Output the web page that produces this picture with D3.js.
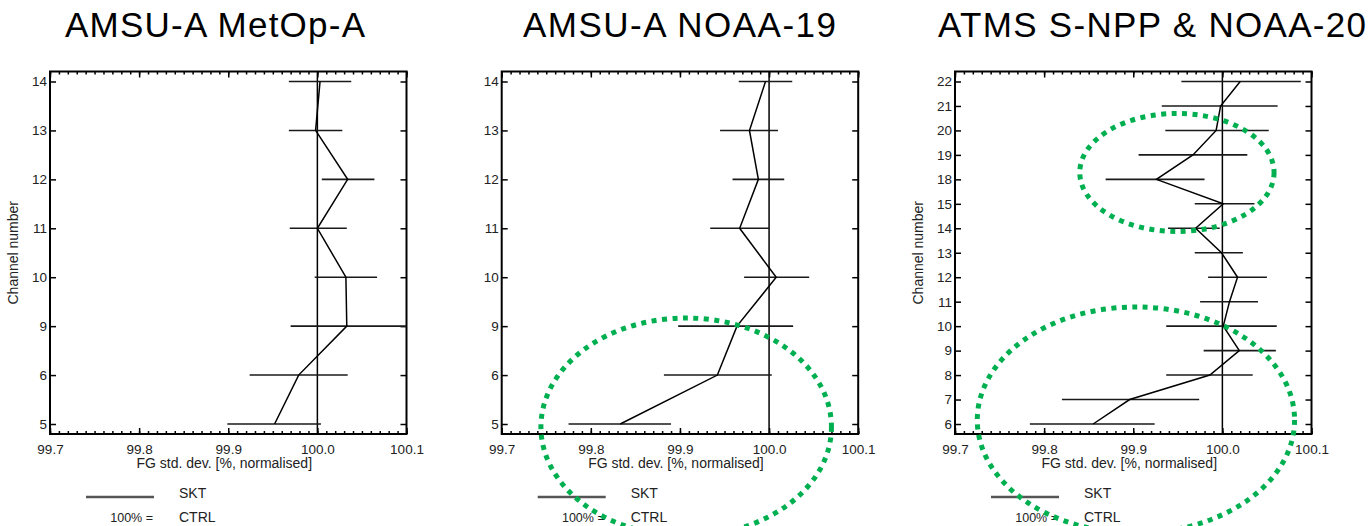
<!DOCTYPE html>
<html>
<head>
<meta charset="utf-8">
<script src="https://cdn.jsdelivr.net/npm/d3@7"></script>
<style>
  body { margin: 0; background: #fff; }
  svg { display: block; font-family: "Liberation Sans", Arial, sans-serif; }
  .axis text { font-size: 13.5px; fill: #222; }
  .axis line { stroke: #000; stroke-width: 1.5; }
</style>
</head>
<body>
<div id="chart"></div>
<script>
const WIDTH = 1370;
const HEIGHT = 526;

// channels and FG std. dev. (normalised, %) per instrument
const metopChannels = [5, 6, 9, 10, 11, 12, 13, 14];
const metopMean = [99.952, 99.979, 100.033, 100.032, 100.000, 100.034, 99.998, 100.003];
const metopLow = [99.899, 99.924, 99.970, 99.997, 99.969, 100.005, 99.968, 99.968];
const metopHigh = [100.004, 100.034, 100.100, 100.067, 100.033, 100.064, 100.028, 100.038];

const noaa19Channels = [5, 6, 9, 10, 11, 12, 13, 14];
const noaa19Mean = [99.833, 99.942, 99.964, 100.008, 99.967, 99.988, 99.978, 99.996];
const noaa19Low = [99.775, 99.882, 99.898, 99.972, 99.934, 99.959, 99.945, 99.966];
const noaa19High = [99.890, 100.003, 100.027, 100.045, 100.000, 100.017, 100.010, 100.026];

const atmsChannels = [6, 7, 8, 9, 10, 11, 12, 13, 14, 15, 18, 19, 20, 21, 22];
const atmsMean = [99.855, 99.896, 99.986, 100.019, 100.001, 100.008, 100.017, 99.999, 99.970, 100.001, 99.926, 99.967, 99.993, 99.998, 100.020];
const atmsLow = [99.784, 99.820, 99.937, 99.979, 99.937, 99.975, 99.984, 99.969, 99.939, 99.969, 99.869, 99.906, 99.936, 99.932, 99.954];
const atmsHigh = [99.924, 99.974, 100.034, 100.060, 100.061, 100.040, 100.050, 100.023, 99.997, 100.036, 99.980, 100.028, 100.052, 100.062, 100.088];

const xDomain = [99.7, 100.1];
const xTicks = [99.7, 99.8, 99.9, 100.0, 100.1];
const xMinorTicks = d3.range(0, 41).map(i => +(99.7 + i * 0.01).toFixed(2));
const ctrlValue = 100.0;

const BOX_TOP = 71.5;
const BOX_BOTTOM = 434;
const BOX_WIDTH = 356.5;
const Y_PAD = 10;

const panels = [
    {title: 'AMSU-A MetOp-A', titleX: 215, titleWidth: 300, left: 50, channels: metopChannels,
     mean: metopMean, low: metopLow, high: metopHigh, yLabel: true, rings: []},
    {title: 'AMSU-A NOAA-19', titleX: 679.5, titleWidth: 313, left: 501.7, channels: noaa19Channels,
     mean: noaa19Mean, low: noaa19Low, high: noaa19High, yLabel: false,
     rings: [{cx: 99.907, rx: 0.163, cy: 427, ry: 109}]},
    {title: 'ATMS S-NPP & NOAA-20', titleX: 1152, titleWidth: 428, left: 955, channels: atmsChannels,
     mean: atmsMean, low: atmsLow, high: atmsHigh, yLabel: true,
     rings: [{cx: 99.949, rx: 0.109, cy: 172.5, ry: 59},
             {cx: 99.903, rx: 0.178, cy: 420, ry: 113}]}
];

const svg = d3.select('#chart').append('svg')
    .attr('width', WIDTH)
    .attr('height', HEIGHT);

function drawPanel(p){
    const right = p.left + BOX_WIDTH;
    const x = d3.scaleLinear().domain(xDomain).range([p.left, right]);
    const y = d3.scalePoint()
        .domain(p.channels.map(String))
        .range([BOX_BOTTOM - Y_PAD, BOX_TOP + Y_PAD]);

    const g = svg.append('g').attr('class', 'panel');

    g.append('text')
        .attr('x', p.titleX)
        .attr('y', 37)
        .attr('text-anchor', 'middle')
        .attr('textLength', p.titleWidth)
        .attr('lengthAdjust', 'spacing')
        .style('font-size', '35px')
        .text(p.title);

    // minor ticks, top and bottom, pointing inward
    g.append('g').attr('class', 'axis')
        .attr('transform', `translate(0,${BOX_BOTTOM})`)
        .call(d3.axisBottom(x).tickValues(xMinorTicks).tickSize(-3).tickFormat(''))
        .call(a => a.select('.domain').remove());
    g.append('g').attr('class', 'axis')
        .attr('transform', `translate(0,${BOX_TOP})`)
        .call(d3.axisTop(x).tickValues(xMinorTicks).tickSize(-3).tickFormat(''))
        .call(a => a.select('.domain').remove());

    g.append('g').attr('class', 'axis')
        .attr('transform', `translate(0,${BOX_BOTTOM})`)
        .call(d3.axisBottom(x).tickValues(xTicks).tickSize(-6).tickPadding(10).tickFormat(d3.format('.1f')))
        .call(a => a.select('.domain').remove());
    g.append('g').attr('class', 'axis')
        .attr('transform', `translate(0,${BOX_TOP})`)
        .call(d3.axisTop(x).tickValues(xTicks).tickSize(-6).tickFormat(''))
        .call(a => a.select('.domain').remove());

    g.append('g').attr('class', 'axis')
        .attr('transform', `translate(${p.left},0)`)
        .call(d3.axisLeft(y).tickSize(-6).tickPadding(3))
        .call(a => a.select('.domain').remove());
    g.append('g').attr('class', 'axis')
        .attr('transform', `translate(${right},0)`)
        .call(d3.axisRight(y).tickSize(-6).tickFormat(''))
        .call(a => a.select('.domain').remove());

    g.append('rect')
        .attr('x', p.left)
        .attr('y', BOX_TOP)
        .attr('width', BOX_WIDTH)
        .attr('height', BOX_BOTTOM - BOX_TOP)
        .attr('fill', 'none')
        .attr('stroke', '#000')
        .attr('stroke-width', 2);

    g.append('text')
        .attr('x', p.left + BOX_WIDTH / 2 - 4)
        .attr('y', 468)
        .attr('text-anchor', 'middle')
        .style('font-size', '14px')
        .attr('fill', '#222')
        .text('FG std. dev. [%, normalised]');

    if(p.yLabel){
        g.append('text')
            .attr('transform', `translate(${p.left - 32},${(BOX_TOP + BOX_BOTTOM) / 2}) rotate(-90)`)
            .attr('text-anchor', 'middle')
            .style('font-size', '14px')
            .attr('fill', '#222')
            .text('Channel number');
    }

    // CTRL reference
    g.append('line')
        .attr('x1', x(ctrlValue)).attr('x2', x(ctrlValue))
        .attr('y1', BOX_TOP).attr('y2', BOX_BOTTOM)
        .attr('stroke', '#000')
        .attr('stroke-width', 1.5);

    const rows = p.channels.map((c, i) => ({c: String(c), mean: p.mean[i], low: p.low[i], high: p.high[i]}));

    g.append('g').selectAll('line')
        .data(rows)
        .join('line')
        .attr('x1', d => x(d.low))
        .attr('x2', d => x(Math.min(d.high, xDomain[1])))
        .attr('y1', d => y(d.c))
        .attr('y2', d => y(d.c))
        .attr('stroke', '#1a1a1a')
        .attr('stroke-width', 1.6);

    g.append('path')
        .datum(rows)
        .attr('fill', 'none')
        .attr('stroke', '#000')
        .attr('stroke-width', 1.5)
        .attr('d', d3.line().x(d => x(d.mean)).y(d => y(d.c)));

    // legend
    g.append('line')
        .attr('x1', p.left + 36).attr('x2', p.left + 104)
        .attr('y1', 497).attr('y2', 497)
        .attr('stroke', '#555')
        .attr('stroke-width', 2.5);
    g.append('text')
        .attr('x', p.left + 129).attr('y', 498)
        .style('font-size', '14px').attr('fill', '#222')
        .text('SKT');
    g.append('text')
        .attr('x', p.left + 103).attr('y', 521.5)
        .attr('text-anchor', 'end')
        .style('font-size', '12.5px').attr('fill', '#222')
        .text('100% =');
    g.append('text')
        .attr('x', p.left + 129).attr('y', 521.5)
        .style('font-size', '14px').attr('fill', '#222')
        .text('CTRL');

    // highlight rings
    g.append('g').selectAll('ellipse')
        .data(p.rings)
        .join('ellipse')
        .attr('cx', d => x(d.cx))
        .attr('cy', d => d.cy)
        .attr('rx', d => x(d.cx + d.rx) - x(d.cx))
        .attr('ry', d => d.ry)
        .attr('fill', 'none')
        .attr('stroke', '#00b050')
        .attr('stroke-width', 5)
        .attr('stroke-dasharray', '5 5.5');
}

panels.forEach(drawPanel);
</script>
</body>
</html>
